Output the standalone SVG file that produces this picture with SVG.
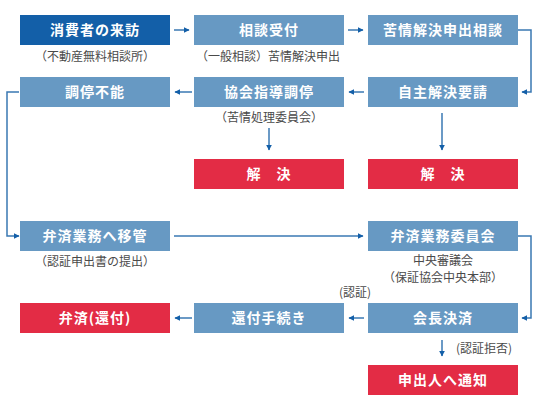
<svg xmlns="http://www.w3.org/2000/svg" width="538" height="410" viewBox="0 0 538 410">
<style>
.box{fill:#6799c3}
.dark{fill:#135fa8}
.red{fill:#e32c45}
.t{font-family:"Noto Sans CJK JP","Noto Sans CJK SC",sans-serif;font-size:14px;font-weight:bold;fill:#fff;text-anchor:middle;letter-spacing:1px}
.s{font-family:"Noto Sans CJK JP","Noto Sans CJK SC",sans-serif;font-size:12px;fill:#4a4a4a;text-anchor:middle}
.c{fill:none;stroke:#3a78b3;stroke-width:1.5}
</style>
<defs>
<marker id="a" viewBox="0 0 10 10" refX="9" refY="5" markerWidth="6" markerHeight="6" markerUnits="userSpaceOnUse" orient="auto">
<path d="M0,0L10,5L0,10z" fill="#135fa8"/>
</marker>
</defs>
<rect width="538" height="410" fill="#fff"/>
<g id="connectors">
<path class="c" d="M174,30H189" marker-end="url(#a)"/>
<path class="c" d="M348,30H363" marker-end="url(#a)"/>
<path class="c" d="M518,30H531V92H522" marker-end="url(#a)"/>
<path class="c" d="M364,92H349" marker-end="url(#a)"/>
<path class="c" d="M192,92H175" marker-end="url(#a)"/>
<path class="c" d="M19,92H7V236H19" marker-end="url(#a)"/>
<path class="c" d="M269,128V150" marker-end="url(#a)"/>
<path class="c" d="M442,113V150" marker-end="url(#a)"/>
<path class="c" d="M174,236H363" marker-end="url(#a)"/>
<path class="c" d="M518,236H531V318H522" marker-end="url(#a)"/>
<path class="c" d="M364,318H349" marker-end="url(#a)"/>
<path class="c" d="M192,318H175" marker-end="url(#a)"/>
<path class="c" d="M442,340V356" marker-end="url(#a)"/>
</g>
<g id="n1"><rect class="dark" x="20" y="15" width="150" height="30"/><text class="t" x="95" y="35">消費者の来訪</text><text class="s" x="95" y="61">（不動産無料相談所）</text></g>
<g id="n2"><rect class="box" x="194" y="15" width="150" height="30"/><text class="t" x="269" y="35">相談受付</text><text class="s" x="268" y="61">（一般相談）苦情解決申出</text></g>
<g id="n3"><rect class="box" x="368" y="15" width="150" height="30"/><text class="t" x="443" y="35">苦情解決申出相談</text></g>
<g id="n4"><rect class="box" x="368" y="77" width="150" height="30"/><text class="t" x="443" y="97">自主解決要請</text></g>
<g id="n5"><rect class="box" x="194" y="77" width="150" height="30"/><text class="t" x="269" y="97">協会指導調停</text><text class="s" x="269" y="122">（苦情処理委員会）</text></g>
<g id="n6"><rect class="box" x="20" y="77" width="150" height="30"/><text class="t" x="95" y="97">調停不能</text></g>
<g id="n7"><rect class="red" x="194" y="159" width="150" height="30"/><text class="t" x="269" y="179">解　決</text></g>
<g id="n8"><rect class="red" x="368" y="159" width="150" height="30"/><text class="t" x="443" y="179">解　決</text></g>
<g id="n9"><rect class="box" x="20" y="221" width="150" height="30"/><text class="t" x="95" y="241">弁済業務へ移管</text><text class="s" x="95" y="266">（認証申出書の提出）</text></g>
<g id="n10"><rect class="box" x="368" y="221" width="150" height="30"/><text class="t" x="443" y="241">弁済業務委員会</text><text class="s" x="443" y="265">中央審議会</text><text class="s" x="443" y="282">（保証協会中央本部）</text></g>
<g id="n11"><rect class="box" x="368" y="303" width="150" height="30"/><text class="t" x="443" y="323">会長決済</text><text class="s" x="355" y="297">(認証)</text><text class="s" x="484" y="353">(認証拒否)</text></g>
<g id="n12"><rect class="box" x="194" y="303" width="150" height="30"/><text class="t" x="269" y="323">還付手続き</text></g>
<g id="n13"><rect class="red" x="20" y="303" width="150" height="30"/><text class="t" x="95" y="323">弁済(還付)</text></g>
<g id="n14"><rect class="red" x="368" y="365" width="150" height="30"/><text class="t" x="443" y="385">申出人へ通知</text></g>
</svg>
